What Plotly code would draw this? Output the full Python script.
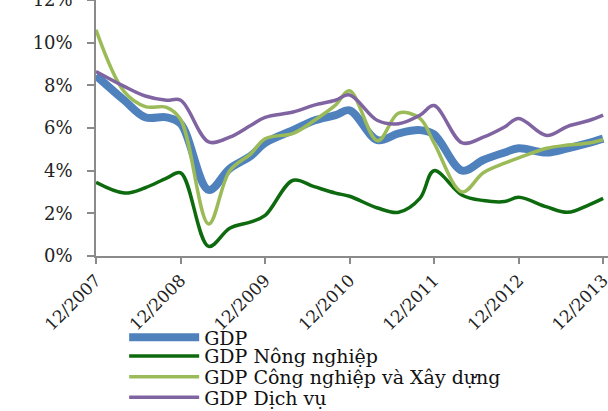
import plotly.graph_objects as go

# x positions (dates at which each cumulative-period value is plotted)
dates = [
    "2007-12-01",
    "2008-04-01", "2008-07-01", "2008-10-01", "2008-12-01",
    "2009-04-01", "2009-07-01", "2009-10-01", "2009-12-01",
    "2010-04-01", "2010-07-01", "2010-10-01", "2010-12-01",
    "2011-04-01", "2011-07-01", "2011-10-01", "2011-12-01",
    "2012-04-01", "2012-07-01", "2012-10-01", "2012-12-01",
    "2013-04-01", "2013-07-01", "2013-10-01", "2013-12-01",
]

gdp = [8.46,
       7.3, 6.5, 6.5, 6.2,
       3.1, 4.1, 4.7, 5.3,
       5.9, 6.35, 6.6, 6.83,
       5.43, 5.75, 5.9, 5.7,
       4.0, 4.5, 4.85, 5.05,
       4.85, 5.05, 5.3, 5.5]

nong_nghiep = [3.45,
               2.95, 3.2, 3.65, 3.9,
               0.45, 1.3, 1.6, 1.9,
               3.55, 3.25, 2.95, 2.8,
               2.25, 2.05, 2.7, 4.0,
               2.85, 2.6, 2.55, 2.75,
               2.3, 2.05, 2.4, 2.7]

cong_nghiep = [10.6,
               7.7, 7.0, 6.97, 6.4,
               1.5, 4.0, 4.8, 5.5,
               5.75, 6.35, 7.07, 7.75,
               5.4, 6.7, 6.45, 5.3,
               3.0, 3.9, 4.35, 4.6,
               5.05, 5.2, 5.3, 5.45]

dich_vu = [8.65,
           7.95, 7.5, 7.3, 7.3,
           5.35, 5.57, 6.13, 6.5,
           6.75, 7.07, 7.3, 7.55,
           6.35, 6.2, 6.6, 7.05,
           5.3, 5.57, 6.05, 6.45,
           5.65, 6.08, 6.35, 6.6]

series_names = ["GDP", "GDP Nông nghiệp", "GDP Công nghiệp và Xây dựng", "GDP Dịch vụ"]
series_values = [gdp, nong_nghiep, cong_nghiep, dich_vu]

x_tick_dates = ["2007-12-01", "2008-12-01", "2009-12-01", "2010-12-01",
                "2011-12-01", "2012-12-01", "2013-12-01"]
x_tick_labels = ["12/2007", "12/2008", "12/2009", "12/2010",
                 "12/2011", "12/2012", "12/2013"]
y_tick_vals = [0, 2, 4, 6, 8, 10, 12]
y_tick_labels = ["0%", "2%", "4%", "6%", "8%", "10%", "12%"]

colors = ["#4F81BD", "#0E6A0E", "#9BBB59", "#8064A2"]
widths = [8, 3.5, 3.5, 3.5]
legend_ids = ["legend", "legend2", "legend3", "legend4"]
legend_y = [-0.318, -0.391, -0.472, -0.552]

SERIF = "DejaVu Serif, serif"

fig = go.Figure()
for name, vals, col, w, lg in zip(series_names, series_values, colors, widths, legend_ids):
    fig.add_trace(go.Scatter(
        x=dates, y=vals, name=name, mode="lines",
        line=dict(color=col, width=w, shape="spline", smoothing=1.0),
        legend=lg, hoverinfo="skip",
    ))

layout_legends = {}
for lg, ly in zip(legend_ids, legend_y):
    layout_legends[lg] = dict(
        x=0.055, xanchor="left", y=ly, yanchor="middle",
        bgcolor="rgba(0,0,0,0)", borderwidth=0,
        font=dict(family=SERIF, size=19, color="#111"),
        itemwidth=70, orientation="v",
    )

fig.update_layout(
    width=608, height=411,
    margin=dict(l=96, r=0, t=0, b=155, pad=0, autoexpand=False),
    paper_bgcolor="white", plot_bgcolor="white",
    showlegend=True,
    **layout_legends,
)

fig.update_xaxes(
    type="date", range=["2007-12-01", "2013-12-22"], automargin=False,
    tickmode="array", tickvals=x_tick_dates, ticktext=x_tick_labels,
    tickangle=-45, ticks="outside", ticklen=6, tickcolor="#8a8a8a", tickwidth=1.5,
    showline=True, linecolor="#8a8a8a", linewidth=1.5,
    showgrid=False, zeroline=False, ticklabeloverflow="allow",
    tickfont=dict(family=SERIF, size=17, color="#222"),
)
fig.update_yaxes(
    range=[0, 12], automargin=False,
    tickmode="array", tickvals=y_tick_vals, ticktext=y_tick_labels,
    ticks="outside", ticklen=7, tickcolor="#8a8a8a", tickwidth=1.5,
    showline=True, linecolor="#8a8a8a", linewidth=1.5,
    showgrid=False, zeroline=False, ticklabeloverflow="allow",
    ticklabelstandoff=11,
    tickfont=dict(family=SERIF, size=18, color="#222"),
)

fig.write_html(
    "out.html",
    config={"displayModeBar": False},
    post_script="document.body.style.margin='0';document.body.style.overflow='hidden';",
)
